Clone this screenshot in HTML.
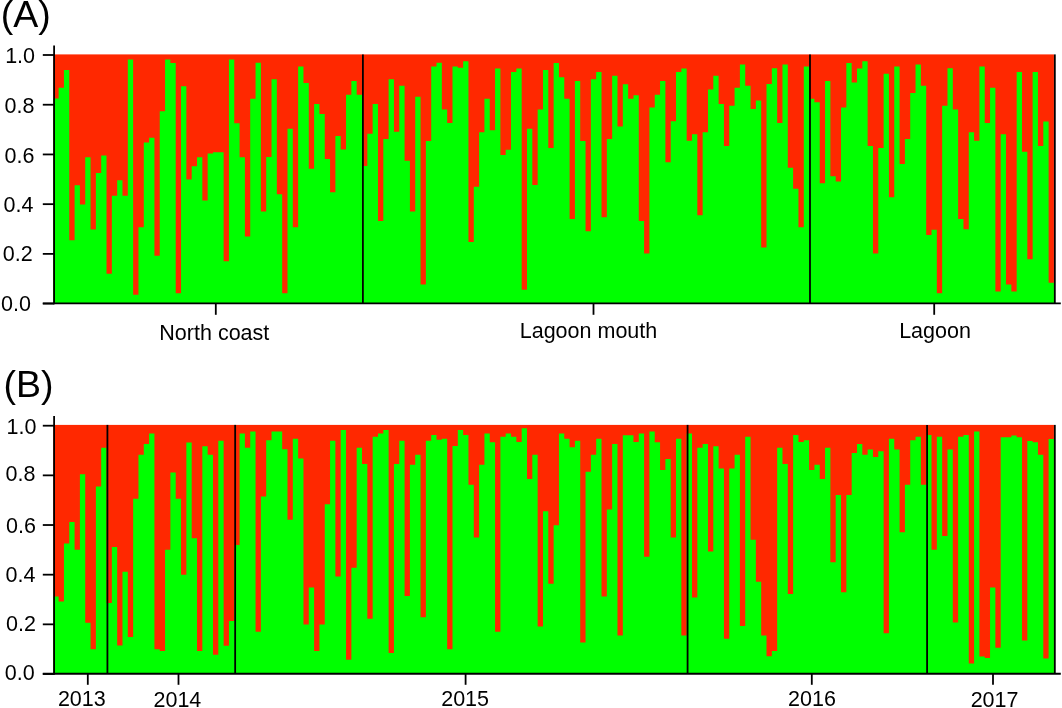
<!DOCTYPE html>
<html><head><meta charset="utf-8"><style>
html,body{margin:0;padding:0;background:#fff;width:1062px;height:708px;overflow:hidden}
svg{display:block;will-change:transform}
text{font-family:"Liberation Sans",sans-serif;fill:#000}
</style></head><body>
<svg width="1062" height="708" viewBox="0 0 1062 708">
<rect x="53.30" y="54.40" width="1000.63" height="249.00" fill="#ff2800"/>
<path d="M53.30,303.40L53.30,98.47L58.62,98.47L58.62,87.77L63.94,87.77L63.94,70.09L69.27,70.09L69.27,240.15L74.59,240.15L74.59,185.37L79.91,185.37L79.91,204.55L85.23,204.55L85.23,157.24L90.56,157.24L90.56,229.45L95.88,229.45L95.88,172.92L101.20,172.92L101.20,155.49L106.52,155.49L106.52,273.77L111.85,273.77L111.85,195.83L117.17,195.83L117.17,180.14L122.49,180.14L122.49,195.83L127.81,195.83L127.81,59.38L133.14,59.38L133.14,294.69L138.46,294.69L138.46,227.21L143.78,227.21L143.78,142.55L149.10,142.55L149.10,137.81L154.43,137.81L154.43,255.84L159.75,255.84L159.75,111.17L165.07,111.17L165.07,59.38L170.39,59.38L170.39,63.12L175.72,63.12L175.72,293.19L181.04,293.19L181.04,86.27L186.36,86.27L186.36,179.40L191.69,179.40L191.69,166.20L197.01,166.20L197.01,157.24L202.33,157.24L202.33,200.56L207.65,200.56L207.65,153.50L212.97,153.50L212.97,152.26L218.30,152.26L218.30,152.26L223.62,152.26L223.62,261.32L228.94,261.32L228.94,59.38L234.26,59.38L234.26,123.37L239.59,123.37L239.59,157.24L244.91,157.24L244.91,236.42L250.23,236.42L250.23,98.72L255.56,98.72L255.56,62.87L260.88,62.87L260.88,211.52L266.20,211.52L266.20,156.99L271.52,156.99L271.52,79.30L276.84,79.30L276.84,194.34L282.17,194.34L282.17,293.19L287.49,293.19L287.49,128.85L292.81,128.85L292.81,227.21L298.13,227.21L298.13,66.60L303.46,66.60L303.46,83.03L308.78,83.03L308.78,168.69L314.10,168.69L314.10,103.95L319.43,103.95L319.43,113.91L324.75,113.91L324.75,158.98L330.07,158.98L330.07,192.35L335.39,192.35L335.39,136.07L340.71,136.07L340.71,149.52L346.04,149.52L346.04,94.74L351.36,94.74L351.36,81.04L356.68,81.04L356.68,94.74L362.00,94.74L362.00,165.95L367.33,165.95L367.33,133.83L372.65,133.83L372.65,103.95L377.97,103.95L377.97,220.98L383.30,220.98L383.30,139.06L388.62,139.06L388.62,79.30L393.94,79.30L393.94,131.84L399.26,131.84L399.26,85.77L404.58,85.77L404.58,160.72L409.91,160.72L409.91,211.52L415.23,211.52L415.23,96.73L420.55,96.73L420.55,284.48L425.88,284.48L425.88,141.05L431.20,141.05L431.20,66.60L436.52,66.60L436.52,62.87L441.84,62.87L441.84,109.43L447.17,109.43L447.17,122.88L452.49,122.88L452.49,66.60L457.81,66.60L457.81,67.85L463.13,67.85L463.13,61.37L468.45,61.37L468.45,241.90L473.78,241.90L473.78,186.87L479.10,186.87L479.10,132.34L484.42,132.34L484.42,98.72L489.75,98.72L489.75,130.34L495.07,130.34L495.07,68.59L500.39,68.59L500.39,155.00L505.71,155.00L505.71,149.77L511.03,149.77L511.03,72.08L516.36,72.08L516.36,68.59L521.68,68.59L521.68,289.70L527.00,289.70L527.00,128.85L532.32,128.85L532.32,184.88L537.65,184.88L537.65,109.43L542.97,109.43L542.97,70.09L548.29,70.09L548.29,148.02L553.62,148.02L553.62,63.12L558.94,63.12L558.94,77.31L564.26,77.31L564.26,98.72L569.58,98.72L569.58,218.99L574.90,218.99L574.90,81.04L580.23,81.04L580.23,141.05L585.55,141.05L585.55,231.19L590.87,231.19L590.87,79.30L596.19,79.30L596.19,72.08L601.52,72.08L601.52,217.25L606.84,217.25L606.84,139.06L612.16,139.06L612.16,75.81L617.48,75.81L617.48,126.61L622.81,126.61L622.81,84.28L628.13,84.28L628.13,98.72L633.45,98.72L633.45,95.24L638.77,95.24L638.77,220.98L644.10,220.98L644.10,253.60L649.42,253.60L649.42,107.44L654.74,107.44L654.74,94.74L660.06,94.74L660.06,81.04L665.39,81.04L665.39,162.22L670.71,162.22L670.71,121.13L676.03,121.13L676.03,72.08L681.35,72.08L681.35,68.59L686.68,68.59L686.68,140.80L692.00,140.80L692.00,134.33L697.32,134.33L697.32,215.25L702.64,215.25L702.64,132.34L707.97,132.34L707.97,89.51L713.29,89.51L713.29,75.81L718.61,75.81L718.61,103.95L723.93,103.95L723.93,146.03L729.26,146.03L729.26,105.69L734.58,105.69L734.58,87.77L739.90,87.77L739.90,64.61L745.22,64.61L745.22,85.77L750.55,85.77L750.55,108.93L755.87,108.93L755.87,100.47L761.19,100.47L761.19,247.38L766.51,247.38L766.51,84.03L771.84,84.03L771.84,68.34L777.16,68.34L777.16,122.88L782.48,122.88L782.48,64.61L787.80,64.61L787.80,167.69L793.13,167.69L793.13,188.86L798.45,188.86L798.45,227.21L803.77,227.21L803.77,66.60L809.09,66.60L809.09,98.72L814.42,98.72L814.42,102.21L819.74,102.21L819.74,183.13L825.06,183.13L825.06,81.04L830.38,81.04L830.38,176.16L835.71,176.16L835.71,181.39L841.03,181.39L841.03,107.44L846.35,107.44L846.35,63.12L851.67,63.12L851.67,82.54L857.00,82.54L857.00,68.59L862.32,68.59L862.32,61.37L867.64,61.37L867.64,146.03L872.96,146.03L872.96,253.60L878.29,253.60L878.29,148.02L883.61,148.02L883.61,73.82L888.93,73.82L888.93,197.33L894.25,197.33L894.25,66.60L899.58,66.60L899.58,163.96L904.90,163.96L904.90,139.06L910.22,139.06L910.22,93.00L915.54,93.00L915.54,64.61L920.87,64.61L920.87,85.77L926.19,85.77L926.19,234.92L931.51,234.92L931.51,229.70L936.83,229.70L936.83,293.19L942.16,293.19L942.16,105.69L947.48,105.69L947.48,68.34L952.80,68.34L952.80,109.43L958.12,109.43L958.12,218.99L963.45,218.99L963.45,229.20L968.77,229.20L968.77,132.34L974.09,132.34L974.09,140.80L979.41,140.80L979.41,66.60L984.74,66.60L984.74,122.88L990.06,122.88L990.06,87.77L995.38,87.77L995.38,291.45L1000.70,291.45L1000.70,134.33L1006.03,134.33L1006.03,284.48L1011.35,284.48L1011.35,291.45L1016.67,291.45L1016.67,72.08L1021.99,72.08L1021.99,151.76L1027.32,151.76L1027.32,259.33L1032.64,259.33L1032.64,72.08L1037.96,72.08L1037.96,146.03L1043.29,146.03L1043.29,121.38L1048.61,121.38L1048.61,282.73L1053.93,282.73L1053.93,303.40Z" fill="#00ff00"/>
<line x1="362.90" y1="54.40" x2="362.90" y2="303.40" stroke="#000" stroke-width="1.8"/>
<line x1="809.99" y1="54.40" x2="809.99" y2="303.40" stroke="#000" stroke-width="1.8"/>
<line x1="1054.83" y1="54.40" x2="1054.83" y2="303.40" stroke="#000" stroke-width="1.8"/>
<line x1="54.1" y1="45.4" x2="54.1" y2="304.30" stroke="#000" stroke-width="1.8"/>
<line x1="42.8" y1="55.00" x2="54.1" y2="55.00" stroke="#000" stroke-width="1.8"/>
<line x1="42.8" y1="104.72" x2="54.1" y2="104.72" stroke="#000" stroke-width="1.8"/>
<line x1="42.8" y1="154.44" x2="54.1" y2="154.44" stroke="#000" stroke-width="1.8"/>
<line x1="42.8" y1="204.16" x2="54.1" y2="204.16" stroke="#000" stroke-width="1.8"/>
<line x1="42.8" y1="253.88" x2="54.1" y2="253.88" stroke="#000" stroke-width="1.8"/>
<line x1="42.8" y1="303.60" x2="54.1" y2="303.60" stroke="#000" stroke-width="1.8"/>
<text x="5.17" y="62.70" text-anchor="start" font-size="21.5">1.0</text>
<text x="4.46" y="113.10" text-anchor="start" font-size="21.5">0.8</text>
<text x="4.46" y="163.10" text-anchor="start" font-size="21.5">0.6</text>
<text x="3.56" y="211.80" text-anchor="start" font-size="21.5">0.4</text>
<text x="2.76" y="260.80" text-anchor="start" font-size="21.5">0.2</text>
<text x="1.06" y="311.00" text-anchor="start" font-size="21.5">0.0</text>
<line x1="42.8" y1="303.40" x2="1060.8" y2="303.40" stroke="#000" stroke-width="1.8"/>
<line x1="215.8" y1="303.40" x2="215.8" y2="314.80" stroke="#000" stroke-width="1.8"/>
<line x1="593.5" y1="303.40" x2="593.5" y2="314.80" stroke="#000" stroke-width="1.8"/>
<line x1="934.2" y1="303.40" x2="934.2" y2="314.80" stroke="#000" stroke-width="1.8"/>
<text x="214.30" y="340.40" text-anchor="middle" font-size="21.5">North coast</text>
<text x="588.50" y="337.60" text-anchor="middle" font-size="21.5">Lagoon mouth</text>
<text x="935.00" y="337.60" text-anchor="middle" font-size="21.5">Lagoon</text>
<text x="0.80" y="27.40" text-anchor="start" font-size="37.5">(A)</text>
<rect x="53.30" y="424.90" width="1000.63" height="248.90" fill="#ff2800"/>
<path d="M53.30,673.80L53.30,596.39L58.62,596.39L58.62,601.62L63.94,601.62L63.94,543.38L69.27,543.38L69.27,521.97L74.59,521.97L74.59,549.85L79.91,549.85L79.91,474.18L85.23,474.18L85.23,622.78L90.56,622.78L90.56,649.16L95.88,649.16L95.88,486.38L101.20,486.38L101.20,447.80L106.52,447.80L106.52,603.11L111.85,603.11L111.85,547.11L117.17,547.11L117.17,645.43L122.49,645.43L122.49,571.75L127.81,571.75L127.81,636.96L133.14,636.96L133.14,498.82L138.46,498.82L138.46,454.77L143.78,454.77L143.78,444.07L149.10,444.07L149.10,433.61L154.43,433.61L154.43,649.16L159.75,649.16L159.75,650.90L165.07,650.90L165.07,549.85L170.39,549.85L170.39,472.44L175.72,472.44L175.72,498.82L181.04,498.82L181.04,574.74L186.36,574.74L186.36,442.57L191.69,442.57L191.69,538.15L197.01,538.15L197.01,650.90L202.33,650.90L202.33,446.31L207.65,446.31L207.65,454.77L212.97,454.77L212.97,654.63L218.30,654.63L218.30,440.83L223.62,440.83L223.62,645.67L228.94,645.67L228.94,621.03L234.26,621.03L234.26,545.12L239.59,545.12L239.59,433.61L244.91,433.61L244.91,447.80L250.23,447.80L250.23,431.62L255.56,431.62L255.56,631.74L260.88,631.74L260.88,496.58L266.20,496.58L266.20,440.33L271.52,440.33L271.52,431.62L276.84,431.62L276.84,431.62L282.17,431.62L282.17,449.29L287.49,449.29L287.49,519.73L292.81,519.73L292.81,438.84L298.13,438.84L298.13,458.50L303.46,458.50L303.46,624.52L308.78,624.52L308.78,587.43L314.10,587.43L314.10,650.90L319.43,650.90L319.43,624.52L324.75,624.52L324.75,504.30L330.07,504.30L330.07,440.83L335.39,440.83L335.39,576.48L340.71,576.48L340.71,429.88L346.04,429.88L346.04,659.86L351.36,659.86L351.36,567.77L356.68,567.77L356.68,447.80L362.00,447.80L362.00,463.98L367.33,463.98L367.33,618.79L372.65,618.79L372.65,436.85L377.97,436.85L377.97,433.61L383.30,433.61L383.30,429.88L388.62,429.88L388.62,652.89L393.94,652.89L393.94,463.98L399.26,463.98L399.26,440.83L404.58,440.83L404.58,595.89L409.91,595.89L409.91,464.72L415.23,464.72L415.23,454.77L420.55,454.77L420.55,617.30L425.88,617.30L425.88,440.83L431.20,440.83L431.20,435.10L436.52,435.10L436.52,439.83L441.84,439.83L441.84,438.84L447.17,438.84L447.17,649.16L452.49,649.16L452.49,446.06L457.81,446.06L457.81,429.88L463.13,429.88L463.13,435.10L468.45,435.10L468.45,484.64L473.78,484.64L473.78,537.40L479.10,537.40L479.10,464.72L484.42,464.72L484.42,433.61L489.75,433.61L489.75,442.32L495.07,442.32L495.07,631.74L500.39,631.74L500.39,436.85L505.71,436.85L505.71,433.61L511.03,433.61L511.03,436.85L516.36,436.85L516.36,442.07L521.68,442.07L521.68,428.14L527.00,428.14L527.00,478.91L532.32,478.91L532.32,454.77L537.65,454.77L537.65,626.51L542.97,626.51L542.97,511.27L548.29,511.27L548.29,583.70L553.62,583.70L553.62,525.21L558.94,525.21L558.94,433.61L564.26,433.61L564.26,438.84L569.58,438.84L569.58,447.30L574.90,447.30L574.90,440.83L580.23,440.83L580.23,642.44L585.55,642.44L585.55,471.69L590.87,471.69L590.87,454.77L596.19,454.77L596.19,438.84L601.52,438.84L601.52,596.39L606.84,596.39L606.84,509.53L612.16,509.53L612.16,444.07L617.48,444.07L617.48,635.47L622.81,635.47L622.81,435.35L628.13,435.35L628.13,435.35L633.45,435.35L633.45,442.07L638.77,442.07L638.77,433.61L644.10,433.61L644.10,556.82L649.42,556.82L649.42,431.62L654.74,431.62L654.74,442.32L660.06,442.32L660.06,469.95L665.39,469.95L665.39,459.00L670.71,459.00L670.71,537.40L676.03,537.40L676.03,438.84L681.35,438.84L681.35,635.47L686.68,635.47L686.68,433.61L692.00,433.61L692.00,597.39L697.32,597.39L697.32,447.80L702.64,447.80L702.64,444.07L707.97,444.07L707.97,551.59L713.29,551.59L713.29,446.31L718.61,446.31L718.61,468.46L723.93,468.46L723.93,638.71L729.26,638.71L729.26,468.46L734.58,468.46L734.58,454.77L739.90,454.77L739.90,626.01L745.22,626.01L745.22,436.85L750.55,436.85L750.55,539.64L755.87,539.64L755.87,581.71L761.19,581.71L761.19,635.47L766.51,635.47L766.51,656.13L771.84,656.13L771.84,650.90L777.16,650.90L777.16,447.80L782.48,447.80L782.48,463.98L787.80,463.98L787.80,593.90L793.13,593.90L793.13,435.10L798.45,435.10L798.45,442.07L803.77,442.07L803.77,440.33L809.09,440.33L809.09,469.95L814.42,469.95L814.42,464.72L819.74,464.72L819.74,478.91L825.06,478.91L825.06,447.80L830.38,447.80L830.38,562.29L835.71,562.29L835.71,495.09L841.03,495.09L841.03,592.16L846.35,592.16L846.35,495.09L851.67,495.09L851.67,453.03L857.00,453.03L857.00,444.07L862.32,444.07L862.32,454.77L867.64,454.77L867.64,449.54L872.96,449.54L872.96,457.01L878.29,457.01L878.29,451.28L883.61,451.28L883.61,633.23L888.93,633.23L888.93,438.84L894.25,438.84L894.25,449.54L899.58,449.54L899.58,532.18L904.90,532.18L904.90,484.64L910.22,484.64L910.22,440.33L915.54,440.33L915.54,436.85L920.87,436.85L920.87,484.64L926.19,484.64L926.19,435.10L931.51,435.10L931.51,549.85L936.83,549.85L936.83,436.85L942.16,436.85L942.16,535.91L947.48,535.91L947.48,449.54L952.80,449.54L952.80,622.53L958.12,622.53L958.12,436.85L963.45,436.85L963.45,435.10L968.77,435.10L968.77,663.60L974.09,663.60L974.09,431.62L979.41,431.62L979.41,656.38L984.74,656.38L984.74,658.12L990.06,658.12L990.06,587.43L995.38,587.43L995.38,647.67L1000.70,647.67L1000.70,437.35L1006.03,437.35L1006.03,437.35L1011.35,437.35L1011.35,435.60L1016.67,435.60L1016.67,437.35L1021.99,437.35L1021.99,640.45L1027.32,640.45L1027.32,441.08L1032.64,441.08L1032.64,442.32L1037.96,442.32L1037.96,454.77L1043.29,454.77L1043.29,658.62L1048.61,658.62L1048.61,439.09L1053.93,439.09L1053.93,673.80Z" fill="#00ff00"/>
<line x1="107.42" y1="424.90" x2="107.42" y2="673.75" stroke="#000" stroke-width="1.8"/>
<line x1="235.16" y1="424.90" x2="235.16" y2="673.75" stroke="#000" stroke-width="1.8"/>
<line x1="687.58" y1="424.90" x2="687.58" y2="673.75" stroke="#000" stroke-width="1.8"/>
<line x1="927.09" y1="424.90" x2="927.09" y2="673.75" stroke="#000" stroke-width="1.8"/>
<line x1="1054.83" y1="424.90" x2="1054.83" y2="673.75" stroke="#000" stroke-width="1.8"/>
<line x1="54.1" y1="416.1" x2="54.1" y2="674.65" stroke="#000" stroke-width="1.8"/>
<line x1="42.8" y1="425.70" x2="54.1" y2="425.70" stroke="#000" stroke-width="1.8"/>
<line x1="42.8" y1="475.36" x2="54.1" y2="475.36" stroke="#000" stroke-width="1.8"/>
<line x1="42.8" y1="525.02" x2="54.1" y2="525.02" stroke="#000" stroke-width="1.8"/>
<line x1="42.8" y1="574.68" x2="54.1" y2="574.68" stroke="#000" stroke-width="1.8"/>
<line x1="42.8" y1="624.34" x2="54.1" y2="624.34" stroke="#000" stroke-width="1.8"/>
<line x1="42.8" y1="674.00" x2="54.1" y2="674.00" stroke="#000" stroke-width="1.8"/>
<text x="6.47" y="434.20" text-anchor="start" font-size="21.5">1.0</text>
<text x="5.56" y="480.80" text-anchor="start" font-size="21.5">0.8</text>
<text x="5.96" y="533.10" text-anchor="start" font-size="21.5">0.6</text>
<text x="5.56" y="581.60" text-anchor="start" font-size="21.5">0.4</text>
<text x="5.96" y="630.80" text-anchor="start" font-size="21.5">0.2</text>
<text x="4.86" y="679.70" text-anchor="start" font-size="21.5">0.0</text>
<line x1="42.8" y1="673.75" x2="1060.8" y2="673.75" stroke="#000" stroke-width="1.8"/>
<line x1="87.8" y1="673.75" x2="87.8" y2="684.80" stroke="#000" stroke-width="1.8"/>
<line x1="178.5" y1="673.75" x2="178.5" y2="684.80" stroke="#000" stroke-width="1.8"/>
<line x1="465.6" y1="673.75" x2="465.6" y2="684.80" stroke="#000" stroke-width="1.8"/>
<line x1="811.8" y1="673.75" x2="811.8" y2="684.80" stroke="#000" stroke-width="1.8"/>
<line x1="993.0" y1="673.75" x2="993.0" y2="684.80" stroke="#000" stroke-width="1.8"/>
<text x="81.80" y="706.30" text-anchor="middle" font-size="21.5">2013</text>
<text x="177.40" y="706.50" text-anchor="middle" font-size="21.5">2014</text>
<text x="465.10" y="706.30" text-anchor="middle" font-size="21.5">2015</text>
<text x="811.95" y="706.30" text-anchor="middle" font-size="21.5">2016</text>
<text x="994.55" y="706.50" text-anchor="middle" font-size="21.5">2017</text>
<text x="3.60" y="397.20" text-anchor="start" font-size="37.5">(B)</text>
</svg>
</body></html>
